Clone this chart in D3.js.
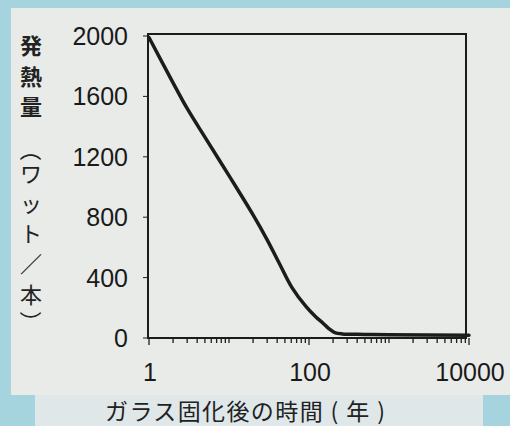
<!DOCTYPE html>
<html><head><meta charset="utf-8">
<script src="https://cdn.jsdelivr.net/npm/d3@7"></script>
<style>html,body{margin:0;padding:0;background:#a5d4de;}svg{display:block;}</style>
</head><body>
<svg id="c" width="510" height="426"></svg>
<script>
const years = [1, 2, 3, 5, 10, 20, 30, 42, 61, 92, 122, 150, 177, 210, 260, 500, 1000, 10000];
const heat  = [1990, 1690, 1520, 1330, 1075, 815, 650, 500, 335, 207, 139, 98, 62, 36, 27, 24, 21, 18];
const yTicks = [0, 400, 800, 1200, 1600, 2000];
const xTickLabels = [1, 100, 10000];
const yTitleChars = ["発","熱","量","（","ワ","ッ","ト","／","本","）"];
const xTitle = "ガラス固化後の時間 ( 年 )";

const svg = d3.select("#c");
svg.append("rect").attr("x",0).attr("y",0).attr("width",510).attr("height",426).attr("fill","#a5d4de");
svg.append("rect").attr("x",11).attr("y",8).attr("width",499).attr("height",387).attr("fill","#e9ebe9");
svg.append("rect").attr("x",35).attr("y",395).attr("width",448).attr("height",31).attr("fill","#dfe7e9");

const L=148, T=34, R=466, B=338;
const x = d3.scaleLog().domain([1,10000]).range([149,469]);
const y = d3.scaleLinear().domain([0,2000]).range([B,36]);

const ink = "#1c1c1c";
// frame
svg.append("rect").attr("x",L).attr("y",T).attr("width",R-L).attr("height",B-T)
  .attr("fill","none").attr("stroke",ink).attr("stroke-width",2);

// x ticks
const xt = x.ticks();
svg.append("g").selectAll("line").data(xt).join("line")
  .attr("x1",d=>x(d)).attr("x2",d=>x(d)).attr("y1",B).attr("y2",d=>[1,100,10000].includes(d)?345:343)
  .attr("stroke",ink).attr("stroke-width",1.3);
svg.append("g").selectAll("text").data(xTickLabels).join("text")
  .attr("x",d=>x(d)+1).attr("y",381).attr("text-anchor","middle")
  .attr("font-family","Liberation Sans, Arial, sans-serif").attr("font-size",25).attr("fill","#1a1a1a")
  .text(d=>d);

// y ticks
svg.append("g").selectAll("line").data(yTicks).join("line")
  .attr("x1",L-5).attr("x2",L).attr("y1",d=>y(d)).attr("y2",d=>y(d))
  .attr("stroke",ink).attr("stroke-width",1);
svg.append("g").selectAll("text").data(yTicks).join("text")
  .attr("x",128).attr("y",d=>y(d)+9).attr("text-anchor","end")
  .attr("font-family","Liberation Sans, Arial, sans-serif").attr("font-size",25).attr("fill","#1a1a1a")
  .text(d=>d);

// curve
const line = d3.line().x(d=>x(d[0])).y(d=>y(d[1])).curve(d3.curveCatmullRom.alpha(0.5));
svg.append("path").datum(years.map((v,i)=>[v,heat[i]]))
  .attr("d",line).attr("fill","none").attr("stroke",ink).attr("stroke-width",3.5)
  .attr("stroke-linejoin","round").attr("stroke-linecap","round");

// y title (vertical)
const yc = [46,77,107,150,174,204,234,264,295,322];
const g = svg.append("g").attr("font-family","Noto Sans CJK JP, sans-serif").attr("fill","#222");
yTitleChars.forEach((ch,i)=>{
  const t = g.append("text").attr("text-anchor","middle").attr("font-size",22)
    .attr("font-weight", i<3?700:400);
  if (ch==="（"||ch==="）") {
    t.attr("transform",`translate(31,${yc[i]}) rotate(90)`).attr("dy","0.35em").attr("x",0).attr("y",0).text(ch);
  } else {
    t.attr("x",31).attr("y",yc[i]).attr("dy","0.36em").text(ch);
  }
});

// x title
svg.append("text").attr("x",105).attr("y",420).attr("textLength",280).attr("lengthAdjust","spacing")
  .attr("font-family","Noto Sans CJK JP, sans-serif").attr("font-size",23).attr("fill","#222")
  .text(xTitle);
</script>
</body></html>
